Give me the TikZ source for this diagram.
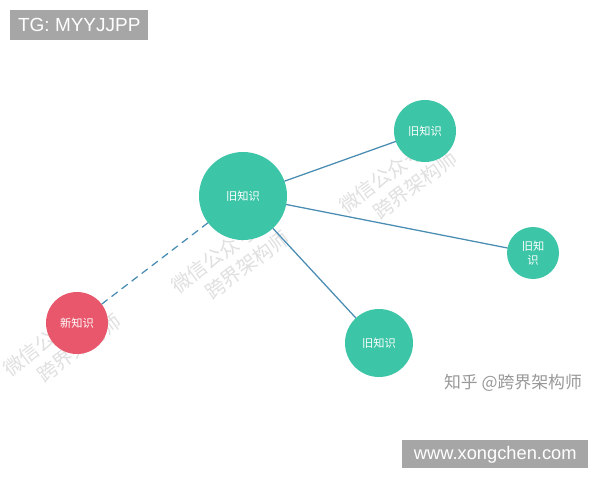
\documentclass[tikz,border=0pt]{standalone}
\usepackage{fontspec}
\setmainfont{Liberation Sans}
\newfontfamily\cjk{Noto Sans CJK SC}
\definecolor{jiuse}{HTML}{3CC5A6}
\definecolor{xinse}{HTML}{E8576B}
\definecolor{lianse}{HTML}{4A8DB3}
\definecolor{huise}{HTML}{A6A6A6}
\tikzset{
  jiu/.style={circle, fill=jiuse, text=white, font=\cjk\fontsize{8}{10}\selectfont, inner sep=0pt, align=center},
  xin/.style={circle, fill=xinse, text=white, font=\cjk\fontsize{8}{10}\selectfont, inner sep=0pt},
  lian/.style={lianse, line width=0.9pt},
  biaoqian/.style={fill=huise, text=white, inner sep=0pt, anchor=north west},
  shuiyin/.style={text=black!12, font=\cjk\fontsize{14}{18}\selectfont, rotate=37, align=left}
}
\begin{document}
\begin{tikzpicture}[x=0.025cm, y=-0.025cm, line join=round, line cap=round]
	\useasboundingbox[fill=white] (0,0) rectangle (600,480);
	% ban jiao
	\node[biaoqian, minimum width=138*0.025cm, minimum height=30*0.025cm, font=\fontsize{13.5}{15}\selectfont] (tg) at (10,10) {TG: MYYJJPP};
	\node[biaoqian, minimum width=186*0.025cm, minimum height=28*0.025cm, font=\fontsize{13}{15}\selectfont] (wang) at (402,440) {www.xongchen.com};
	\node[text=black!40, font=\cjk\fontsize{12}{14}\selectfont] (zhihu) at (513,383) {知乎 @跨界架构师};
	% shui yin
	\node[shuiyin] (sy1) at (398,182) {微信公众号\\\hspace{1.2em}跨界架构师};
	\node[shuiyin] (sy2) at (230,262) {微信公众号\\\hspace{1.2em}跨界架构师};
	\node[shuiyin] (sy3) at (62,345) {微信公众号\\\hspace{1.2em}跨界架构师};
	% yuan
	\node[jiu, minimum size=88*0.025cm] (zhong) at (243,196) {旧知识};
	\node[jiu, minimum size=62*0.025cm] (you1) at (425,131) {旧知识};
	\node[jiu, minimum size=52*0.025cm] (you2) at (533,253) {旧知\\识};
	\node[jiu, minimum size=68*0.025cm] (xia) at (379,343) {旧知识};
	\node[xin, minimum size=62*0.025cm] (xin) at (77,323) {新知识};
	% lian xian
	\draw[lian] (zhong) -- (you1);
	\draw[lian] (zhong) -- (you2);
	\draw[lian] (zhong) -- (xia);
	\draw[lian, dashed, dash pattern=on 5pt off 4pt] (zhong) -- (xin);
\end{tikzpicture}
\end{document}
